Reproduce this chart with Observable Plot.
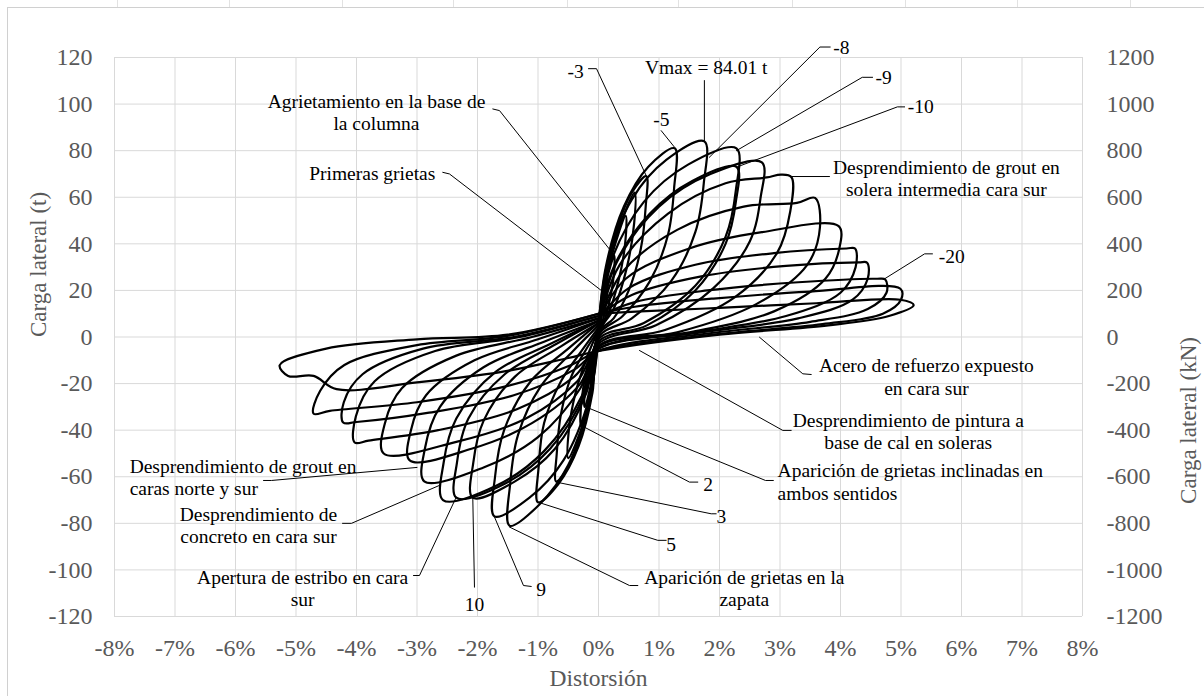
<!DOCTYPE html>
<html>
<head>
<meta charset="utf-8">
<script src="https://cdn.jsdelivr.net/npm/d3@7"></script>
<script src="https://cdn.jsdelivr.net/npm/@observablehq/plot@0.6"></script>
<style>
  html, body { margin: 0; padding: 0; background: #fff; }
  svg { display: block; }
  svg text { font-family: 'Liberation Serif', 'Times New Roman', serif; }
</style>
</head>
<body>
<div id="chart"></div>
<script>
// ---------- axes ----------
const xTicks = [-8,-7,-6,-5,-4,-3,-2,-1,0,1,2,3,4,5,6,7,8];
const xTickLabels = ["-8%","-7%","-6%","-5%","-4%","-3%","-2%","-1%","0%","1%","2%","3%","4%","5%","6%","7%","8%"];
const yTicks = [-120,-100,-80,-60,-40,-20,0,20,40,60,80,100,120];
const yTickLabelsT = ["-120","-100","-80","-60","-40","-20","0","20","40","60","80","100","120"];
const yTickLabelsKN = ["-1200","-1000","-800","-600","-400","-200","0","200","400","600","800","1000","1200"];
const xTitle = "Distorsión";
const yTitleLeft = "Carga lateral (t)";
const yTitleRight = "Carga lateral (kN)";

// ---------- hysteresis loops: [distorsión %, carga t] ----------
const loop01 = [[0,0],[0.02,6],[0.04,11],[0.06,14],[0.055,9],[0.03,4],[0,0],[-0.02,-5],[-0.04,-9],[-0.06,-12],[-0.055,-7],[-0.03,-3],[0,0]];
const loop02 = [[0,1],[0.04,10],[0.09,19],[0.15,26],[0.14,18],[0.09,9],[0.03,3],[0,0],[-0.03,-8],[-0.07,-16],[-0.12,-22],[-0.11,-14],[-0.06,-6],[0,1]];
const loop03 = [[0,1],[0.06,14],[0.15,26],[0.26,35],[0.25,26],[0.17,14],[0.07,5],[0,1],[-0.05,-10],[-0.13,-21],[-0.23,-30],[-0.22,-21],[-0.14,-10],[-0.05,-3],[0,1]];
const loop04 = [[0,2],[0.08,18],[0.22,35],[0.45,52],[0.44,40],[0.33,24],[0.15,9],[0,2],[-0.06,-13],[-0.16,-27],[-0.29,-38],[-0.28,-27],[-0.18,-13],[-0.06,-4],[0,2]];
const loop05 = [[0,3],[0.09,21],[0.28,42],[0.6,62],[0.59,49],[0.47,30],[0.25,12],[0,2],[-0.08,-17],[-0.24,-36],[-0.5,-52],[-0.49,-40],[-0.38,-24],[-0.18,-8],[0,3]];
const loop06 = [[0,3],[0.1,24],[0.3,46],[0.55,62],[0.79,69],[0.78,56],[0.7,38],[0.5,20],[0.25,8],[0,2],[-0.09,-20],[-0.27,-40],[-0.48,-55],[-0.7,-62],[-0.69,-50],[-0.62,-33],[-0.45,-17],[-0.22,-6],[0,3]];
const loop07 = [[0,4],[0.12,30],[0.42,56],[0.82,73],[1.26,81],[1.25,64],[1.15,44],[0.85,24],[0.4,9],[0,1],[-0.1,-24],[-0.33,-47],[-0.66,-63],[-1.0,-71],[-0.99,-56],[-0.9,-37],[-0.62,-19],[-0.28,-6],[0,4]];
const loop08 = [[0,5],[0.15,32],[0.55,59],[1.12,76],[1.75,84],[1.74,66],[1.6,45],[1.2,24],[0.55,8],[0,0],[-0.13,-26],[-0.5,-55],[-0.98,-72],[-1.47,-81],[-1.46,-63],[-1.33,-42],[-0.95,-21],[-0.42,-6],[0,5]];
const loop09 = [[0,6],[0.2,32],[0.75,58],[1.48,74],[2.28,81],[2.27,63],[2.1,43],[1.6,22],[0.75,6],[0,-1],[-0.15,-26],[-0.58,-53],[-1.14,-69],[-1.72,-77],[-1.71,-60],[-1.56,-40],[-1.12,-19],[-0.5,-5],[0,6]];
const loop10 = [[0,6],[0.25,30],[0.85,53],[1.55,67],[2.28,73],[2.27,58],[2.1,40],[1.6,20],[0.8,5],[0,-2],[-0.2,-24],[-0.72,-48],[-1.38,-62],[-2.08,-69],[-2.07,-54],[-1.9,-36],[-1.38,-17],[-0.62,-4],[0,6]];
const loop11 = [[0,7],[0.3,32],[1.0,56],[1.85,70],[2.7,75],[2.68,60],[2.5,41],[1.9,21],[0.95,5],[0,-3],[-0.22,-24],[-0.8,-48],[-1.55,-63],[-2.35,-69],[-2.34,-54],[-2.15,-35],[-1.55,-16],[-0.7,-3],[0,7]];
const loop12 = [[0,7],[0.35,31],[1.15,53],[2.1,66],[2.78,68.5],[3.02,69.7],[3.19,68.6],[3.17,54],[2.95,36],[2.25,17],[1.1,3],[0,-4],[-0.25,-24],[-0.9,-49],[-1.7,-64],[-2.57,-70],[-2.56,-54],[-2.35,-35],[-1.7,-15],[-0.8,-3],[0,7]];
const loop13 = [[0,7],[0.4,28],[1.3,46],[2.4,56],[3.28,57.6],[3.58,59.7],[3.66,47],[3.45,31],[2.6,14],[1.3,2],[0,-4],[-0.3,-22],[-1.0,-43],[-1.9,-56],[-2.88,-62],[-2.87,-48],[-2.62,-30],[-1.9,-13],[-0.9,-2],[0,7]];
const loop14 = [[0,8],[0.45,25],[1.5,38],[2.7,45],[3.97,47.6],[3.98,38],[3.75,25],[2.9,11],[1.5,2],[0,-4],[-0.3,-20],[-1.1,-37],[-2.1,-48],[-3.12,-53],[-3.1,-40],[-2.85,-25],[-2.05,-10],[-1.0,-1],[0,8]];
const loop15 = [[0,8],[0.5,21],[1.6,31],[2.9,36],[4.1,38],[4.24,38],[4.25,30],[4.0,19],[3.1,9],[1.6,2],[0,-5],[-0.35,-19],[-1.2,-35],[-2.35,-45],[-3.55,-50],[-3.53,-37],[-3.25,-22],[-2.35,-8],[-1.1,0],[0,8]];
const loop16 = [[0,9],[0.55,18],[1.7,26],[3.1,30.5],[4.3,32],[4.44,31.9],[4.45,25],[4.2,16],[3.3,8],[1.7,2],[0,-5],[-0.4,-17],[-1.35,-31],[-2.65,-40],[-3.8,-44.5],[-4.03,-45.3],[-4.01,-34],[-3.7,-19],[-2.7,-6],[-1.3,0],[0,9]];
const loop17 = [[0,9],[0.6,15],[1.8,20],[3.3,23.5],[4.6,25],[4.74,24.7],[4.76,19],[4.45,12],[3.5,6.5],[1.8,1.5],[0,-6],[-0.4,-14],[-1.4,-25],[-2.8,-32.5],[-4.0,-36.5],[-4.22,-36.7],[-4.21,-28],[-3.9,-16],[-2.9,-5],[-1.4,0],[0,9]];
const loop18 = [[0,10],[0.6,13],[1.9,16.5],[3.5,19.5],[4.99,20.7],[5.0,16],[4.7,10],[3.7,5.5],[1.9,1],[0,-6],[-0.45,-12],[-1.5,-21],[-3.0,-28],[-4.44,-31.7],[-4.71,-32.9],[-4.6,-23.1],[-4.2,-12],[-3.0,-3.5],[-1.5,0.5],[0,10]];
const loop19 = [[0,10],[0.7,11],[2.0,12.5],[3.6,14.5],[4.99,16],[5.21,13.7],[4.8,9],[3.8,5],[2.0,1],[0,-6],[-0.5,-9],[-1.6,-15],[-3.0,-19.5],[-4.33,-22.4],[-4.71,-16.7],[-5.13,-16.7],[-5.27,-12.1],[-4.5,-5],[-3.0,-1],[-1.5,1],[0,10]];
const loops = [loop01,loop02,loop03,loop04,loop05,loop06,loop07,loop08,loop09,loop10,loop11,loop12,loop13,loop14,loop15,loop16,loop17,loop18,loop19];

// ---------- annotations ----------
const noteLabels = [
  "Vmax = 84.01 t", "-3", "-5", "-8", "-9", "-10",
  "Agrietamiento en la base de\nla columna", "Primeras grietas",
  "Desprendimiento de grout en\nsolera intermedia cara sur", "-20",
  "Acero de refuerzo expuesto\nen cara sur", "Desprendimiento de pintura a\nbase de cal en soleras",
  "Aparición de grietas inclinadas en\nambos sentidos", "2", "3", "5",
  "Aparición de grietas en la\nzapata", "9", "10", "Apertura de estribo en cara\nsur",
  "Desprendimiento de\nconcreto en cara sur", "Desprendimiento de grout en\ncaras norte y sur"
];
const noteX = [1.78, -0.38, 1.04, 3.88, 4.58, 5.11, -3.67, -3.74, 5.75, 5.84, 5.42, 5.12, 2.96, 1.81, 2.03, 1.20, 2.41, -0.95, -2.05, -4.89, -5.62, -7.75];
const noteY = [115.8, 114.4, 93.7, 124.5, 111.5, 99.4, 96.6, 70.6, 68.4, 35.0, -16.9, -40.3, -62.0, -63.0, -76.6, -88.8, -107.7, -108.1, -114.5, -107.7, -80.7, -60.1];
const noteAlign = ["middle","middle","middle","start","start","start","middle","middle","middle","middle","middle","middle","start","middle","middle","middle","middle","middle","middle","middle","middle","start"];

const leaderPaths = [
  [[1.75,110.1],[1.75,84.3]],
  [[-0.165,115.2],[-0.033,115.2],[0.788,69.3]],
  [[1.036,88.6],[1.256,81.5]],
  [[3.83,124.5],[3.66,124.5],[1.83,77.1]],
  [[4.53,111.5],[4.36,111.5],[2.28,80.0]],
  [[5.06,98.8],[4.94,98.8],[2.28,72.9]],
  [[-1.747,97.9],[-1.636,97.2],[0.264,35.0]],
  [[-2.574,70.7],[-2.463,70.0],[0.045,20.0]],
  [[3.818,68.9],[3.185,68.9]],
  [[5.52,35.7],[5.39,35.7],[4.73,25.0]],
  [[2.661,-0.1],[3.377,-15.8],[3.516,-16.1]],
  [[0.678,-5.8],[3.046,-40.1],[3.185,-40.1]],
  [[-0.231,-29.8],[2.76,-61.6],[2.89,-61.6]],
  [[-0.286,-38.0],[1.504,-62.3],[1.641,-62.3]],
  [[-0.699,-62.3],[1.863,-75.9],[1.945,-75.9]],
  [[-1.003,-70.9],[0.980,-87.3],[1.119,-87.3]],
  [[-1.471,-81.6],[0.512,-106.7],[0.650,-106.7]],
  [[-1.719,-77.3],[-1.240,-106.7],[-1.112,-107.1]],
  [[-2.078,-68.8],[-2.050,-107.4]],
  [[-2.352,-68.8],[-2.959,-102.4],[-3.058,-102.4]],
  [[-4.231,-80.0],[-4.083,-80.0],[-2.628,-63.7]],
  [[-5.537,-61.6],[-5.405,-61.6],[-3.0,-56.0]]
];

// ---------- tables ----------
const loopData = loops.flatMap((pts, c) => pts.map(p => ({x: p[0], y: p[1], c})));
const leaderData = leaderPaths.flatMap((pts, id) => pts.map(p => ({x: p[0], y: p[1], id})));
const notes = noteLabels.map((t, i) => ({t, x: noteX[i], y: noteY[i], a: noteAlign[i]}));

const FONT = "'Liberation Serif', 'Times New Roman', serif";
const AXIS_GRAY = "#595959";
const noteStyle = {fontSize: 19.5, lineHeight: 1.14, fill: "#000", lineAnchor: "middle", fontFamily: FONT};
const axisStyle = {tickSize: 0, fontSize: 24, fill: AXIS_GRAY, label: null, fontFamily: FONT};

const chart = Plot.plot({
  width: 1204,
  height: 696,
  marginLeft: 114,
  marginRight: 122,
  marginTop: 57,
  marginBottom: 80,
  style: `font-family: ${FONT}; background: #fff; overflow: visible;`,
  x: {domain: [-8, 8]},
  y: {domain: [-120, 120]},
  marks: [
    Plot.gridX(xTicks, {stroke: "#d9d9d9", strokeOpacity: 1, strokeWidth: 1}),
    Plot.gridY(yTicks, {stroke: "#d9d9d9", strokeOpacity: 1, strokeWidth: 1}),
    Plot.axisX(xTicks, {...axisStyle, tickPadding: 22, tickFormat: d => xTickLabels[xTicks.indexOf(d)]}),
    Plot.axisY(yTicks, {...axisStyle, anchor: "left", tickPadding: 22, tickFormat: d => yTickLabelsT[yTicks.indexOf(d)]}),
    Plot.axisY(yTicks, {...axisStyle, anchor: "right", tickPadding: 24, tickFormat: d => yTickLabelsKN[yTicks.indexOf(d)]}),
    Plot.text([xTitle], {frameAnchor: "bottom", dy: 62, fontSize: 23.5, fill: AXIS_GRAY, lineAnchor: "middle", fontFamily: FONT}),
    Plot.text([yTitleLeft], {frameAnchor: "left", dx: -76, rotate: -90, fontSize: 23, fill: AXIS_GRAY, lineAnchor: "middle", fontFamily: FONT}),
    Plot.text([yTitleRight], {frameAnchor: "right", dx: 106, rotate: -90, fontSize: 23, fill: AXIS_GRAY, lineAnchor: "middle", fontFamily: FONT}),
    Plot.line(loopData, {x: "x", y: "y", z: "c", stroke: "#000", strokeWidth: 2.2, curve: "catmull-rom", strokeLinejoin: "round"}),
    Plot.line(leaderData, {x: "x", y: "y", z: "id", stroke: "#000", strokeWidth: 1}),
    Plot.text(notes.filter(d => d.a === "middle"), {x: "x", y: "y", text: "t", textAnchor: "middle", ...noteStyle}),
    Plot.text(notes.filter(d => d.a === "start"), {x: "x", y: "y", text: "t", textAnchor: "start", ...noteStyle})
  ]
});

d3.select(chart).selectAll("text").style("font-family", FONT);

// chart-area border (spreadsheet frame) and the sheet's column lines peeking above it
const deco = d3.select(chart).insert("g", ":first-child");
deco.append("rect")
  .attr("x", 7.5).attr("y", 7.5).attr("width", 1220).attr("height", 720)
  .attr("fill", "none").attr("stroke", "#d0d0d0").attr("stroke-width", 1);
deco.selectAll("line.col").data([117, 229, 342, 453, 567, 678, 792, 905, 1017, 1130]).join("line")
  .attr("x1", d => d + 0.5).attr("x2", d => d + 0.5).attr("y1", 0).attr("y2", 7)
  .attr("stroke", "#e2e2e2").attr("stroke-width", 1);

document.getElementById("chart").appendChild(chart);
</script>
</body>
</html>
